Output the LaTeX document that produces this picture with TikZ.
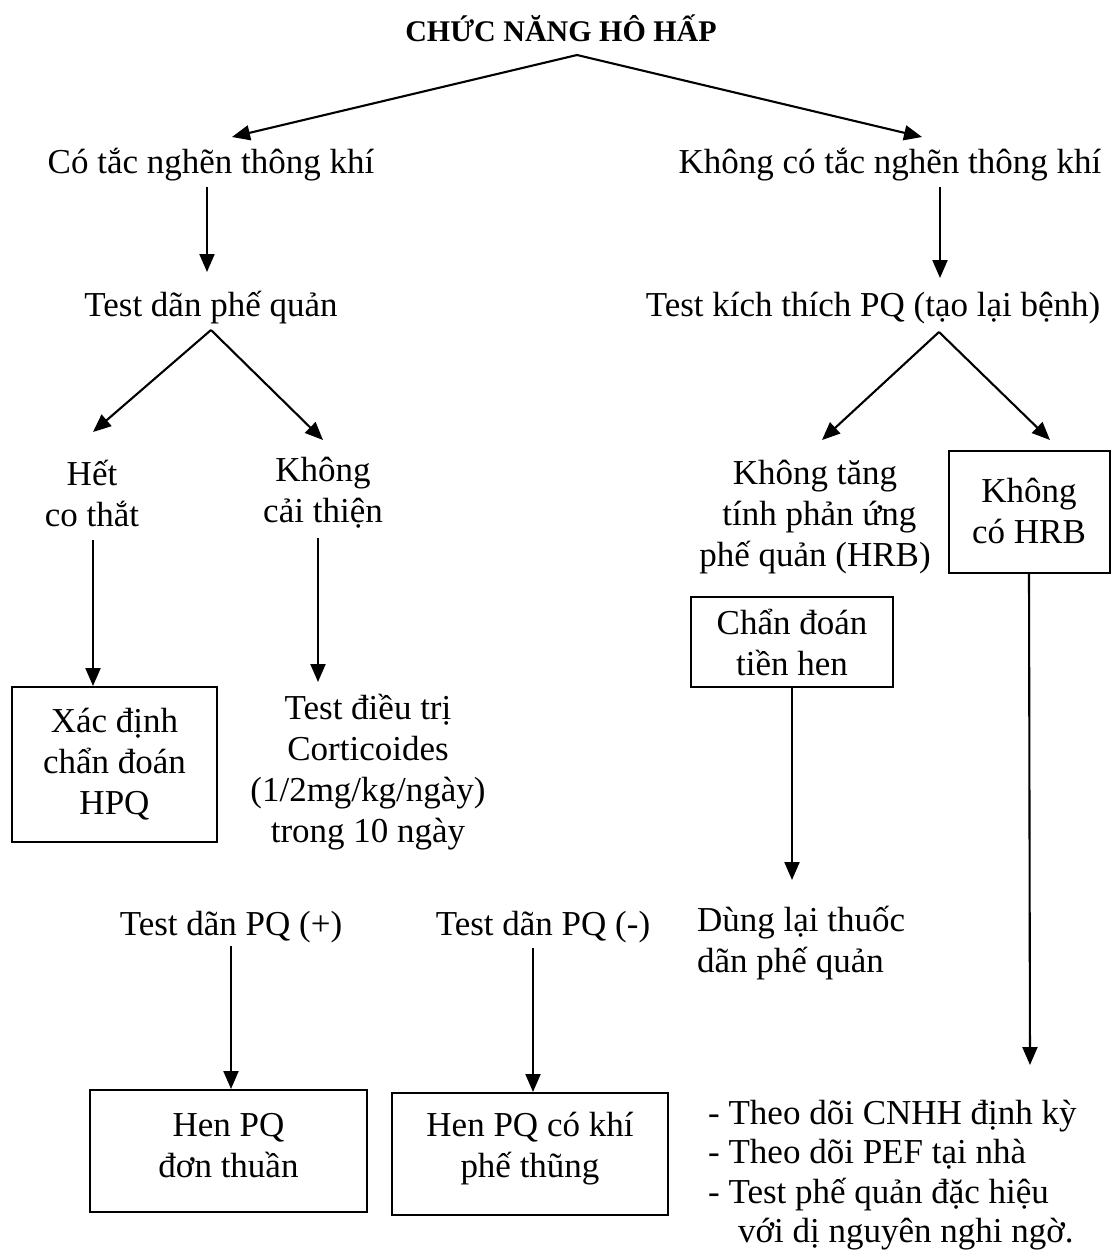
\documentclass[tikz,border=0pt]{standalone}
\usepackage{fontspec}
\setmainfont{Liberation Serif}
\usetikzlibrary{arrows.meta}
\tikzset{
  txt/.style={font=\fontsize{35}{41}\selectfont, inner sep=0pt, align=center},
  ttl/.style={font=\bfseries\fontsize{30}{36}\selectfont, inner sep=0pt},
  box/.style={draw, line width=2pt, inner sep=0pt, align=center, font=\fontsize{35}{41}\selectfont},
  arr/.style={line width=2.1pt, -{Triangle[length=18pt,width=15pt]}},
}
\begin{document}
\begin{tikzpicture}[x=1pt,y=-1pt]
\useasboundingbox[fill=white] (0,0) rectangle (1111,1251);

% title and first fork
\node[ttl, anchor=base] (t) at (561,41) {CHỨC NĂNG HÔ HẤP};
\coordinate (t0) at (577,55);
\coordinate (n1t) at (232,137);
\coordinate (n2t) at (922,137);
\node[txt, anchor=base] (n1) at (211,173) {Có tắc nghẽn thông khí};
\node[txt, anchor=base] (n2) at (890,173) {Không có tắc nghẽn thông khí};
\draw[arr] (t0) -- (n1t);
\draw[arr] (t0) -- (n2t);

% second row
\coordinate (n1b) at (207,187);
\coordinate (n2b) at (940,187);
\coordinate (n3t) at (207,272);
\coordinate (n4t) at (940,278);
\node[txt, anchor=base] (n3) at (211,316) {Test dãn phế quản};
\node[txt, anchor=base] (n4) at (873,316) {Test kích thích PQ (tạo lại bệnh)};
\draw[arr] (n1b) -- (n3t);
\draw[arr] (n2b) -- (n4t);

% left fork
\coordinate (f3) at (211,330);
\coordinate (n5t) at (93,432);
\coordinate (n6t) at (323,440);
\node[txt] (n5) at (92,493) {Hết\\co thắt};
\node[txt] (n6) at (323,493) {Không\\cải thiện};
\draw[arr] (f3) -- (n5t);
\draw[arr] (f3) -- (n6t);

% right fork
\coordinate (f4) at (939,332);
\coordinate (n10t) at (822,440);
\coordinate (b4t) at (1050,440);
\node[txt] (n10) at (815,517) {Không tăng\\\ tính phản ứng\\phế quản (HRB)};
\node[box, minimum width=161pt, minimum height=122pt] (b4) at (1029,512) {};
\node[txt] (b4x) at (1029,511) {Không\\có HRB};
\draw[arr] (f4) -- (n10t);
\draw[arr] (f4) -- (b4t);

% left column boxes
\coordinate (n5b) at (93,540);
\coordinate (n6b) at (318,538);
\node[box, minimum width=205pt, minimum height=155pt] (b1) at (114.5,764.5) {Xác định\\chẩn đoán\\HPQ};
\node[txt] (n7) at (368,772) {Test điều trị\\Corticoides\\(1/2mg/kg/ngày)\\trong 10 ngày};
\coordinate (n7t) at (318,682);
\draw[arr] (n5b) -- (n5b |- b1.north);
\draw[arr] (n6b) -- (n7t);

% tests
\node[txt, anchor=base] (n8) at (231,935) {Test dãn PQ (+)};
\node[txt, anchor=base] (n9) at (543,935) {Test dãn PQ (-)};
\node[box, minimum width=277pt, minimum height=122pt] (b2) at (228.5,1151) {};
\node[txt] (b2x) at (228.5,1146) {Hen PQ\\đơn thuần};
\node[box, minimum width=276pt, minimum height=122pt] (b3) at (530,1154) {};
\node[txt] (b3x) at (530,1149) {Hen PQ có khí\\phế thũng};
\coordinate (n8b) at (231,946);
\coordinate (n9b) at (533,948);
\draw[arr] (n8b) -- (n8b |- b2.north);
\draw[arr] (n9b) -- (n9b |- b3.north);

% right column
\node[box, minimum width=202pt, minimum height=90pt] (b5) at (792,642) {Chẩn đoán\\tiền hen};
\coordinate (n11t) at (792,880);
\node[txt, anchor=west, align=left] (n11) at (697,943) {Dùng lại thuốc\\dãn phế quản};
\draw[arr] (b5.south) -- (n11t);
\coordinate (n12t) at (1030,1065);
\draw[arr] (b4.south) -- (n12t);
\node[txt, anchor=west, align=left, font=\fontsize{35}{39.5}\selectfont] (n12) at (708,1175)
  {- Theo dõi CNHH định kỳ\\- Theo dõi PEF tại nhà\\- Test phế quản đặc hiệu\\\hspace*{30pt}với dị nguyên nghi ngờ.};
\end{tikzpicture}
\end{document}
